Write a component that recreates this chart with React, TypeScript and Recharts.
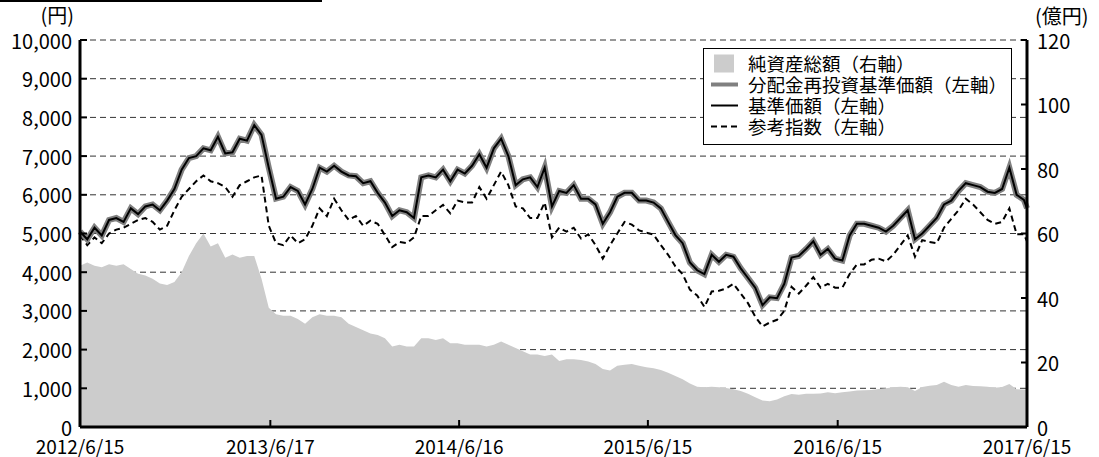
import { ComposedChart, Area, Line, XAxis, YAxis, CartesianGrid, Legend } from 'recharts';

const FONT = '"Noto Sans CJK JP", "Noto Sans", sans-serif';

// x axis: days since 2012/6/15
const tickDays = [0, 367, 731, 1095, 1461, 1826];
const tickLabels = ['2012/6/15', '2013/6/17', '2014/6/16', '2015/6/15', '2016/6/15', '2017/6/15'];
const leftTicks = [0, 1000, 2000, 3000, 4000, 5000, 6000, 7000, 8000, 9000, 10000];
const rightTicks = [0, 20, 40, 60, 80, 100, 120];

// 基準価額 (円), sampled every two weeks, last value on 2017/6/15
const navValues = [
  5050, 4850, 5150, 4950, 5350, 5400, 5300, 5650, 5500, 5700, 5750, 5600, 5850, 6150, 6650, 6950, 7000, 7200, 7150,
  7500, 7070, 7100, 7450, 7400, 7800, 7550, 6700, 5900, 5950, 6200, 6100, 5750, 6150, 6700, 6600, 6750, 6600, 6500,
  6480, 6300, 6350, 6050, 5800, 5450, 5600, 5550, 5400, 6450, 6500, 6450, 6650, 6350, 6650, 6550, 6750, 7050,
  6700, 7200, 7450, 7000, 6250, 6400, 6450, 6200, 6700, 5700, 6100, 6050, 6250, 5900, 5900, 5750, 5250, 5550, 5950,
  6050, 6050, 5850, 5850, 5800, 5650, 5300, 4960, 4750, 4250, 4050, 3950, 4450, 4270, 4450, 4400, 4100, 3850, 3600,
  3150, 3350, 3330, 3700, 4380, 4420, 4600, 4800, 4450, 4600, 4350, 4300, 4950, 5250, 5250, 5200, 5150, 5050, 5200,
  5400, 5600, 4850, 5000, 5200, 5400, 5750, 5850, 6100, 6300, 6250, 6200, 6080, 6050, 6150, 6700, 6000, 5870, 5650,
];

// 分配金再投資基準価額: no distributions were paid, so it coincides with 基準価額
const reinvestedValues = navValues;

// 参考指数
const indexValues = [
  4950, 4700, 4900, 4750, 5000, 5100, 5150, 5250, 5350, 5400, 5300, 5100, 5200, 5600, 5950, 6150, 6350, 6500, 6350,
  6300, 6200, 5950, 6250, 6350, 6450, 6500, 5200, 4750, 4700, 4950, 4750, 4850, 5200, 5650, 5450, 5900, 5600, 5350,
  5450, 5200, 5330, 5250, 4960, 4650, 4780, 4750, 4900, 5450, 5450, 5600, 5740, 5520, 5850, 5800, 5800, 6200,
  5900, 6250, 6600, 6250, 5700, 5650, 5400, 5400, 5800, 4900, 5150, 5050, 5150, 4870, 4980, 4700, 4350, 4700, 5000,
  5300, 5230, 5080, 5020, 4970, 4700, 4450, 4150, 3950, 3550, 3400, 3100, 3500, 3520, 3580, 3700, 3450, 3200, 2850,
  2600, 2700, 2770, 3000, 3620, 3450, 3650, 3870, 3600, 3700, 3600, 3600, 3950, 4200, 4200, 4320, 4350, 4280, 4450,
  4700, 4950, 4400, 4830, 4780, 4750, 5150, 5380, 5600, 5900, 5750, 5550, 5350, 5250, 5300, 5650, 4980, 4980, 4800,
];

// 純資産総額 (億円)
const netAssetValues = [
  50, 51, 50, 49.5, 50.5, 50, 50.5, 49, 47.5, 47, 46, 44.5, 44, 45, 48, 53, 57, 60, 56,
  57, 52.5, 53.5, 52.5, 53, 53, 46, 37, 35, 34.5, 34.5, 33.5, 32, 34, 35, 34.5, 34.5, 34, 32,
  31, 30, 29, 28.5, 27.5, 25, 25.5, 25, 25, 27.5, 27.5, 27, 27.5, 26, 26, 25.5, 25.5, 25.5,
  25, 25.5, 26.5, 25.5, 24.5, 23.5, 22.5, 22.5, 22, 22.5, 20.5, 21, 21, 20.8, 20.3, 19.5, 18, 17.5, 19,
  19.3, 19.5, 19, 18.5, 18.2, 17.7, 16.8, 15.8, 14.8, 13.5, 12.5, 12.3, 12.5, 12.3, 12.1, 11.7, 11.2, 10.3, 9.2,
  8.2, 8, 8.5, 9.5, 10.2, 10, 10.3, 10.3, 10.4, 10.8, 10.5, 10.8, 11, 11.3, 11.4, 11.5, 11.8, 12, 12.3,
  12.5, 12.3, 11.2, 12.4, 12.8, 13, 14, 13, 12.5, 13, 12.7, 12.6, 12.5, 12.2, 12.4, 13.3, 11.7, 11.6, 11.6,
];

const sampleDays = navValues.map((_, i) => Math.min(i * 14, 1826));

const data = sampleDays.map((day, i) => ({
  day,
  nav: navValues[i],
  reinvested: reinvestedValues[i],
  index: indexValues[i],
  assets: netAssetValues[i],
}));

const legendItems = [
  { label: '純資産総額（右軸）', kind: 'box' },
  { label: '分配金再投資基準価額（左軸）', kind: 'thick' },
  { label: '基準価額（左軸）', kind: 'solid' },
  { label: '参考指数（左軸）', kind: 'dash' },
];

const LeftTick = ({ x, y, payload }: any) => (
  <g>
    <line x1={x + 8} x2={x + 15} y1={y} y2={y} stroke="#000" strokeWidth={2} />
    <text x={x} y={y} textAnchor="end" dominantBaseline="central" fontSize={20} fontFamily={FONT} fill="#000">
      {Number(payload.value).toLocaleString('en-US')}
    </text>
  </g>
);

const RightTick = ({ x, y, payload }: any) => (
  <g>
    <line x1={x - 10} x2={x - 16} y1={y} y2={y} stroke="#000" strokeWidth={2} />
    <text x={x} y={y} textAnchor="start" dominantBaseline="central" fontSize={20} fontFamily={FONT} fill="#000">
      {payload.value}
    </text>
  </g>
);

const BottomTick = ({ x, y, payload, index }: any) => (
  <g>
    <line x1={x} x2={x} y1={y - 18} y2={y - 25} stroke="#000" strokeWidth={2} />
    <text x={x} y={y} textAnchor="middle" dominantBaseline="central" fontSize={19} fontFamily={FONT} fill="#000">
      {tickLabels[tickDays.indexOf(payload.value)] ?? tickLabels[index]}
    </text>
  </g>
);

const Swatch = ({ kind }: { kind: string }) => (
  <svg width={44} height={21} style={{ display: 'block', flex: 'none' }}>
    {kind === 'box' && <rect x={10} y={1.5} width={20} height={18} fill="#cccccc" />}
    {kind === 'thick' && <line x1={7} x2={34} y1={10.5} y2={10.5} stroke="#808080" strokeWidth={4} />}
    {kind === 'solid' && <line x1={7} x2={34} y1={10.5} y2={10.5} stroke="#000" strokeWidth={2} />}
    {kind === 'dash' && (
      <line x1={7} x2={34} y1={10.5} y2={10.5} stroke="#000" strokeWidth={2} strokeDasharray="6 4" />
    )}
  </svg>
);

const renderLegend = () => (
  <div
    style={{
      boxSizing: 'border-box',
      width: 309,
      height: 97,
      border: '1px solid #000',
      background: '#fff',
      paddingTop: 4,
      fontFamily: FONT,
      fontSize: 18.5,
      color: '#000',
    }}
  >
    {legendItems.map((item) => (
      <div key={item.label} style={{ display: 'flex', alignItems: 'center', height: 21, lineHeight: '21px' }}>
        <Swatch kind={item.kind} />
        <span style={{ whiteSpace: 'nowrap' }}>{item.label}</span>
      </div>
    ))}
  </div>
);

export default function App() {
  return (
    <div style={{ position: 'absolute', left: 0, top: 0, width: 1099, height: 457, background: '#fff' }}>
      <div style={{ position: 'absolute', left: 0, top: 0, width: 322, height: 2, background: '#000' }} />
      <div
        style={{
          position: 'absolute', right: 1099 - 74, top: 4, fontFamily: FONT, fontSize: 20, lineHeight: '22px', color: '#000',
        }}
      >
        (円)
      </div>
      <div
        style={{
          position: 'absolute', left: 1035, top: 5, fontFamily: FONT, fontSize: 20, lineHeight: '22px', color: '#000',
        }}
      >
        (億円)
      </div>
      <ComposedChart width={1099} height={457} data={data} margin={{ top: 40, right: 0, bottom: 0, left: 0 }}>
        <CartesianGrid yAxisId="left" vertical={false} stroke="#333" strokeDasharray="6 4" />
        <Area
          yAxisId="right"
          type="linear"
          dataKey="assets"
          fill="#cccccc"
          fillOpacity={1}
          stroke="none"
          isAnimationActive={false}
        />
        <Line
          yAxisId="left"
          type="linear"
          dataKey="index"
          stroke="#000"
          strokeWidth={2}
          strokeDasharray="6 4"
          dot={false}
          isAnimationActive={false}
        />
        <Line
          yAxisId="left"
          type="linear"
          dataKey="reinvested"
          stroke="#808080"
          strokeWidth={6}
          dot={false}
          isAnimationActive={false}
        />
        <Line
          yAxisId="left"
          type="linear"
          dataKey="nav"
          stroke="#000"
          strokeWidth={2}
          dot={false}
          isAnimationActive={false}
        />
        <XAxis
          dataKey="day"
          type="number"
          domain={[0, 1826]}
          ticks={tickDays}
          interval={0}
          height={30}
          tickSize={0}
          tickMargin={18}
          tickLine={false}
          tick={<BottomTick />}
          axisLine={{ stroke: '#000', strokeWidth: 3 }}
        />
        <XAxis
          xAxisId="top"
          orientation="top"
          dataKey="day"
          type="number"
          domain={[0, 1826]}
          height={0}
          tick={false}
          tickLine={false}
          axisLine={{ stroke: '#000', strokeWidth: 2.5 }}
        />
        <YAxis
          yAxisId="left"
          domain={[0, 10000]}
          ticks={leftTicks}
          interval={0}
          width={80}
          tickSize={0}
          tickMargin={8}
          tickLine={false}
          tick={<LeftTick />}
          axisLine={{ stroke: '#000', strokeWidth: 3 }}
        />
        <YAxis
          yAxisId="right"
          orientation="right"
          domain={[0, 120]}
          ticks={rightTicks}
          interval={0}
          width={72}
          tickSize={0}
          tickMargin={10}
          tickLine={false}
          tick={<RightTick />}
          axisLine={{ stroke: '#000', strokeWidth: 3 }}
        />
        <Legend
          layout="vertical"
          align="center"
          verticalAlign="middle"
          content={renderLegend}
          wrapperStyle={{ left: 703, top: 48, width: 309, height: 97 }}
        />
      </ComposedChart>
    </div>
  );
}
